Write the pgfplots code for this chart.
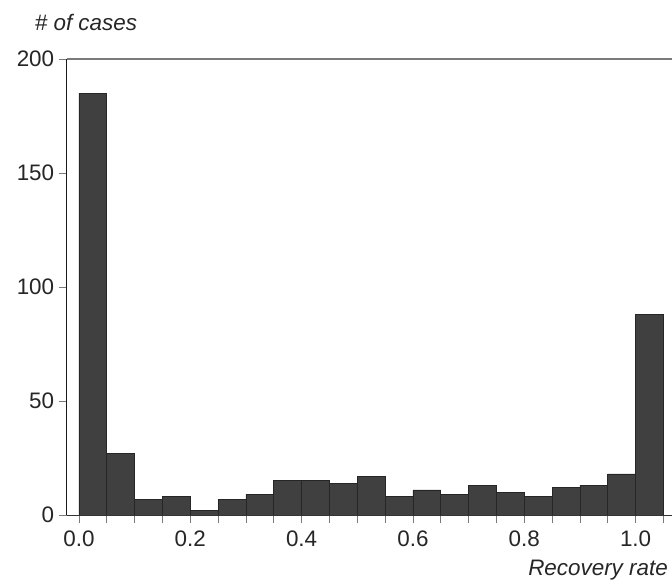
\documentclass[border=0pt]{standalone}
\usepackage{fontspec}
\setmainfont{Liberation Sans}
\usepackage{pgfplots}
\pgfplotsset{compat=1.18}
\definecolor{barfill}{HTML}{404040}
\definecolor{baredge}{HTML}{262626}
\definecolor{tickgray}{HTML}{7A7A7A}
\begin{document}
\begin{tikzpicture}[x=1bp,y=1bp]
\begin{axis}[
  at={(0,0)}, anchor=south west,
  scale only axis,
  width=605.3bp, height=456bp,
  xmin=-0.022, xmax=1.0654,
  ymin=0, ymax=200,
  axis line style={draw=none},
  xtick={0,0.2,0.4,0.6,0.8,1.0},
  minor xtick={0.05,0.1,0.15,0.25,0.3,0.35,0.45,0.5,0.55,0.65,0.7,0.75,0.85,0.9,0.95,1.05},
  ytick={0,50,100,150,200},
  xticklabels={0.0,0.2,0.4,0.6,0.8,1.0},
  xtick pos=bottom, ytick pos=left,
  tick align=outside,
  major tick length=8bp, minor tick length=8bp,
  every tick/.style={tickgray, line width=0.8bp},
  every minor tick/.style={tickgray, line width=0.8bp},
  /pgf/number format/assume math mode=true,
  tick label style={font=\fontsize{22.5}{26}\selectfont, text=black!85},
  xticklabel style={yshift=-4bp},
  yticklabel style={xshift=-1bp},
  clip=false,
]
\addplot[ybar interval, fill=barfill, draw=baredge, line width=0.7bp] coordinates {
(0.00,185) (0.05,27) (0.10,7) (0.15,8) (0.20,2) (0.25,7) (0.30,9)
(0.35,15) (0.40,15) (0.45,14) (0.50,17) (0.55,8) (0.60,11) (0.65,9)
(0.70,13) (0.75,10) (0.80,8) (0.85,12) (0.90,13) (0.95,18) (1.00,88) (1.05,88)
};
\draw[black!90, line width=0.8bp] (rel axis cs:0,0) -- (rel axis cs:0,1);
\draw[tickgray, line width=1.2bp] (rel axis cs:0,1) -- (rel axis cs:1,1);
\draw[black!80, line width=0.8bp] (rel axis cs:0,0) -- (rel axis cs:1,0);
\node[anchor=base west, font=\fontsize{22.5}{26}\selectfont\itshape, text=black!85, inner sep=0pt]
  at ([xshift=-32bp, yshift=28bp] rel axis cs:0,1) {\# of cases};
\node[anchor=base east, font=\fontsize{22.5}{26}\selectfont\itshape, text=black!85, inner sep=0pt]
  at ([xshift=-4bp, yshift=-60bp] rel axis cs:1,0) {Recovery rate};
\end{axis}
\pgfresetboundingbox
\useasboundingbox (-66.7bp,-67bp) rectangle (605.3bp,515bp);
\end{tikzpicture}
\end{document}
